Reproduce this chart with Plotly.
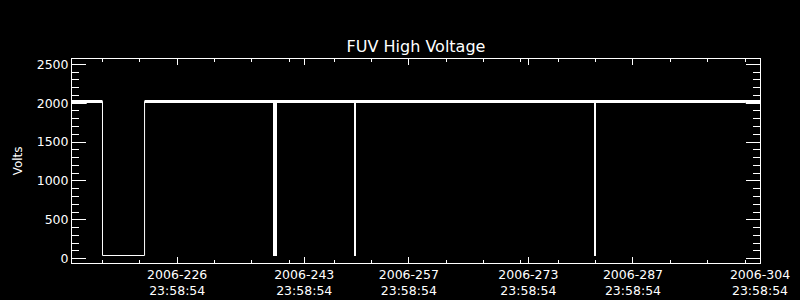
import plotly.graph_objects as go

# ---- data (x in day-of-year 2006, fractional) ----
T_START = 212.92
T_END = 304.999
NOMINAL = 2022

# main HV series (step through the long low-voltage period)
series_time = [T_START, 217.0, 217.0, 222.63, 222.63, T_END]
series_volts = [NOMINAL, NOMINAL, 41, 41, NOMINAL, NOMINAL]

# noise envelope of the nominal level (segment start, end, low, high)
band_start = [T_START, 214.89, 222.63, 303.10]
band_end = [214.89, 217.0, 303.10, T_END]
band_lo = [1990, 2002, 2002, 1990]
band_hi = [2041, 2041, 2041, 2041]

# short drops (centre time, duration in days, minimum volts)
spike_time = [240.08, 250.85, 282.90]
spike_dur = [0.535, 0.134, 0.27]
spike_min = [36, 36, 36]

# axis ticks
major_ticks = [226.999, 243.999, 257.999, 273.999, 287.999, 304.999]
major_labels = ["2006-226<br>23:58:54", "2006-243<br>23:58:54", "2006-257<br>23:58:54",
                "2006-273<br>23:58:54", "2006-287<br>23:58:54", "2006-304<br>23:58:54"]
minor_ticks = [216.999, 221.999, 231.999, 236.999, 241.999, 247.999, 252.999, 262.999,
               267.999, 272.999, 277.999, 282.999, 292.999, 297.999, 302.999]
Y_RANGE = [-55.3, 2568.1]

# ---- build polygons for the envelope ----
bx, by = [], []
for s, e, lo, hi in zip(band_start, band_end, band_lo, band_hi):
    bx += [s, e, e, s, s, None]
    by += [hi, hi, lo, lo, hi, None]

fig = go.Figure()
fig.add_trace(go.Scatter(x=bx, y=by, mode="lines", fill="toself", fillcolor="white",
                         line=dict(width=0, color="white"), hoverinfo="skip", showlegend=False))
fig.add_trace(go.Scatter(x=series_time, y=series_volts, mode="lines",
                         line=dict(width=1, color="white"), showlegend=False))
fig.add_trace(go.Bar(x=spike_time, y=[NOMINAL - m for m in spike_min], base=spike_min,
                     width=spike_dur, marker=dict(color="white", line=dict(width=0)),
                     showlegend=False))

font = dict(family="DejaVu Sans", size=12.5, color="white")
fig.update_layout(
    width=800, height=300,
    margin=dict(l=72, r=40, t=59, b=37, autoexpand=False),
    paper_bgcolor="black", plot_bgcolor="black",
    font=font,
    title=dict(text="FUV High Voltage", x=0.5, xanchor="center", xref="paper",
               y=0.845, yref="container", yanchor="middle",
               font=dict(family="DejaVu Sans", size=16, color="white")),
    bargap=0,
    annotations=[dict(text="Volts", xref="paper", yref="paper", x=-0.078, y=0.5,
                      textangle=-90, showarrow=False, xanchor="center", yanchor="middle",
                      font=dict(family="DejaVu Sans", size=12, color="white"))],
)
fig.update_xaxes(range=[T_START, T_END], showgrid=False, zeroline=False, automargin=False,
                 showline=True, linecolor="white", linewidth=1, mirror="ticks",
                 ticks="inside", ticklen=6, tickcolor="white", tickwidth=1,
                 tickmode="array", tickvals=major_ticks, ticktext=major_labels,
                 tickfont=font,
                 minor=dict(tickmode="array", tickvals=minor_ticks, ticks="inside",
                            ticklen=3, tickcolor="white", tickwidth=1, showgrid=False))
fig.update_yaxes(range=Y_RANGE, showgrid=False, zeroline=False, automargin=False,
                 showline=True, linecolor="white", linewidth=1, mirror="ticks",
                 ticks="inside", ticklen=14, tickcolor="white", tickwidth=1,
                 tick0=0, dtick=500, tickfont=font,
                 minor=dict(dtick=100, tick0=0, ticks="inside", ticklen=7,
                            tickcolor="white", tickwidth=1, showgrid=False))

fig.write_html("out.html")
